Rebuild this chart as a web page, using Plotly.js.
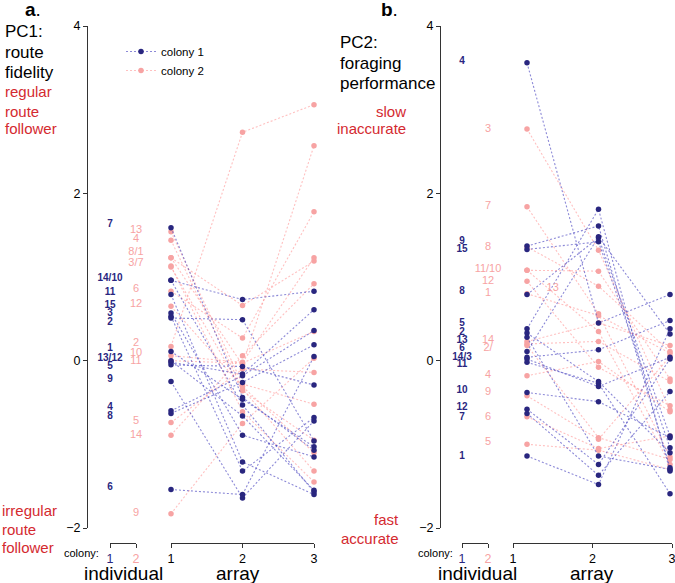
<!DOCTYPE html>
<html><head><meta charset="utf-8">
<script src="https://cdn.plot.ly/plotly-3.0.1.min.js"></script>
<style>html,body{margin:0;padding:0;background:#fff}#chart{width:675px;height:583px}</style>
</head><body><div id="chart"></div>
<script>
// ---------------- DATA ----------------
const arrays = [1, 2, 3];
const colonyTicks = ['1', '2'];
const yTicks = [-2, 0, 2, 4];

// Panel a (PC1) colony 1: values at arrays 1,2,3 per individual
const aC1Ids  = ['7','14','10','11','15','3','2','1','13','12','5','9','4','8','6'];
const aC1Arr1 = [1.59, 0.96, 0.96, 0.79, 0.57, 0.53, 0.51, 0.11, 0.00, -0.02, -0.05, -0.25, -0.60, -0.63, -1.54];
const aC1Arr2 = [-0.44, 0.73, -0.53, -1.21, -0.89, -1.32, 0.49, -0.46, -0.66, -0.16, -0.07, -1.64, -0.18, -0.26, -1.60];
const aC1Arr3 = [-1.07, 0.83, -1.57, -1.60, -1.15, -0.68, -0.96, -1.03, -1.55, 0.61, -0.29, -0.72, 0.36, 0.19, 0.05];
// Panel a colony 2
const aC2Ids  = ['2','13','4','8','1','3','7','6','12','10','11','5','14','9'];
const aC2Arr1 = [0.17, 1.54, 1.44, 1.23, 1.23, 1.13, 1.12, 0.83, 0.65, 0.06, 0.00, -0.74, -0.89, -1.83];
const aC2Arr2 = [2.73, -0.28, -0.34, 0.66, -0.05, -0.61, -0.36, 0.27, -0.31, -0.02, -0.03, -0.10, 0.06, -0.75];
const aC2Arr3 = [3.06, -0.52, -1.32, 1.19, 2.57, -1.45, -0.95, 1.78, -1.10, 1.23, 0.35, -0.14, 0.92, 0.03];
// Panel a individual labels
const aC1LabelText = ['7','14/10','11','15','3','2','1','13/12','5','9','4','8','6'];
const aC1LabelY    = [1.63, 0.98, 0.82, 0.66, 0.56, 0.46, 0.15, 0.03, -0.07, -0.22, -0.56, -0.67, -1.52];
const aC2LabelText = ['13','4','8/1','3/7','6','12','2','10','11','5','14','9'];
const aC2LabelY    = [1.56, 1.45, 1.29, 1.16, 0.85, 0.68, 0.21, 0.09, -0.01, -0.72, -0.89, -1.82];

// Panel b (PC2) colony 1
const bC1Ids  = ['4','9','15','8','5','2','13','6','14','3','11','10','12','7','1'];
const bC1Arr1 = [3.56, 1.37, 1.33, 0.79, 0.38, 0.33, 0.28, 0.11, 0.04, 0.02, -0.02, -0.38, -0.58, -0.63, -1.14];
const bC1Arr2 = [0.45, 1.61, 1.42, 1.47, 1.81, -0.25, -1.14, 1.48, 0.13, -0.31, -0.27, -0.49, -1.24, -1.37, -1.48];
const bC1Arr3 = [0.79, -1.28, -1.04, -0.90, -1.32, -1.10, -1.30, 0.32, 0.48, 0.04, -1.59, -0.92, 0.02, -0.37, 0.38];
// Panel b colony 2
const bC2Ids  = ['3','7','8','11','10','12','1','14','2','13','4','9','6','5'];
const bC2Arr1 = [2.77, 1.84, 1.36, 1.08, 1.08, 0.95, 0.80, 0.23, 0.20, 0.18, -0.18, -0.42, -0.67, -1.00];
const bC2Arr2 = [1.32, 0.56, 0.89, 1.07, 0.35, -0.08, 0.54, 0.45, 0.23, -0.92, -0.01, -0.94, -1.05, -1.07];
const bC2Arr3 = [-0.59, -1.15, 0.11, -0.22, -1.24, -0.54, 0.09, 0.18, -0.25, -1.18, -0.61, 0.05, -0.90, -1.30];
// Panel b individual labels
const bC1LabelText = ['4','9','15','8','5','2','13','6','14/3','11','10','12','7','1'];
const bC1LabelY    = [3.57, 1.43, 1.33, 0.83, 0.44, 0.34, 0.24, 0.14, 0.04, -0.05, -0.36, -0.56, -0.68, -1.15];
const bC2LabelText = ['3','7','8','11/10','12','1','14','2/','4','9','6','5'];
const bC2LabelY    = [2.77, 1.85, 1.36, 1.09, 0.95, 0.81, 0.24, 0.15, -0.17, -0.38, -0.68, -0.98];
// displaced label in panel b (placed among the arrays)
const bC2ExtraLabelText = ['13'];
const bC2ExtraLabelX    = [1.36];
const bC2ExtraLabelY    = [0.86];

// ---------------- STYLE ----------------
const W = 675, H = 583;
const fx = px => px / W;
const fy = py => 1 - py / H;
const NAVY = '#29267f', PINK = '#f7a3a3', RED = '#d42a30';
const NAVY_LINE = 'rgba(70,64,190,0.62)', PINK_LINE = 'rgba(255,150,150,0.6)';
const FONT = 'Liberation Sans, Arial, Helvetica, sans-serif';

function paths(a1, a2, a3) {
  const x = [], y = [];
  for (let i = 0; i < a1.length; i++) {
    x.push(arrays[0], arrays[1], arrays[2], null);
    y.push(a1[i], a2[i], a3[i], null);
  }
  return {x, y};
}
function lineTrace(a1, a2, a3, xa, ya, lineCol, mCol, name, showleg, rank) {
  const p = paths(a1, a2, a3);
  return {type:'scatter', mode:'lines+markers', x:p.x, y:p.y, xaxis:xa, yaxis:ya,
    name:name, showlegend:showleg, legendrank:rank, legendgroup:name, cliponaxis:false,
    connectgaps:false, hoverinfo:'skip',
    line:{color:lineCol, width:1.1, dash:'2px,2px'},
    marker:{color:mCol, size:5.5, line:{width:0}}};
}
function labelTrace(txt, yv, xv, xa, ya, col, bold) {
  return {type:'scatter', mode:'text', x:txt.map(() => xv), y:yv, text:txt.map(t => bold ? '<b>'+t+'</b>' : t),
    xaxis:xa, yaxis:ya, showlegend:false, cliponaxis:false, hoverinfo:'skip',
    textfont:{family:FONT, size:bold ? 10 : 11, color:col}};
}

const traces = [
  // panel a
  lineTrace(aC2Arr1, aC2Arr2, aC2Arr3, 'x2', 'y', PINK_LINE, PINK, 'colony 2', true, 2),
  lineTrace(aC1Arr1, aC1Arr2, aC1Arr3, 'x2', 'y', NAVY_LINE, NAVY, 'colony 1', true, 1),
  labelTrace(aC1LabelText, aC1LabelY, 1, 'x', 'y', NAVY, true),
  labelTrace(aC2LabelText, aC2LabelY, 2, 'x', 'y', PINK, false),
  // panel b
  lineTrace(bC2Arr1, bC2Arr2, bC2Arr3, 'x5', 'y2', PINK_LINE, PINK, 'colony 2', false, 2),
  lineTrace(bC1Arr1, bC1Arr2, bC1Arr3, 'x5', 'y2', NAVY_LINE, NAVY, 'colony 1', false, 1),
  labelTrace(bC1LabelText, bC1LabelY, 1, 'x3', 'y2', NAVY, true),
  labelTrace(bC2LabelText, bC2LabelY, 2, 'x3', 'y2', PINK, false),
  {type:'scatter', mode:'text', x:bC2ExtraLabelX, y:bC2ExtraLabelY, text:bC2ExtraLabelText, xaxis:'x5', yaxis:'y2',
    showlegend:false, cliponaxis:false, hoverinfo:'skip', textfont:{family:FONT, size:11, color:PINK}},
  // anchor for visible array axis in panel b
  {type:'scatter', mode:'markers', x:[arrays[0]], y:[null], xaxis:'x4', yaxis:'y2', showlegend:false, hoverinfo:'skip'}
];

const axisY = fy(543);
const colTick = ['<span style="color:'+NAVY+'">'+colonyTicks[0]+'</span>', '<span style="color:'+PINK+'">'+colonyTicks[1]+'</span>'];
function xAx(dom, rng, vals, txt) {
  return {domain:dom, range:rng, anchor:'free', position:axisY, tickvals:vals, ticktext:txt,
    ticks:'outside', ticklen:4, tickwidth:1, tickcolor:'#333', showline:true, linecolor:'#333', linewidth:1,
    ticklabeloverflow:'allow', showgrid:false, zeroline:false, fixedrange:true,
    tickfont:{family:FONT, size:12.5, color:'#000'}};
}
function yAx(pos) {
  return {domain:[fy(528), fy(26)], range:[-2, 4], anchor:'free', position:pos, tickvals:yTicks,
    ticks:'outside', ticklen:4, tickwidth:1, tickcolor:'#333', showline:true, linecolor:'#333', linewidth:1,
    showgrid:false, zeroline:false, fixedrange:true, tickfont:{family:FONT, size:12.5, color:'#000'}};
}

function ann(text, x, y, size, color, xanchor) {
  return {text:text, x:fx(x), y:fy(y), xref:'paper', yref:'paper', xanchor:xanchor, yanchor:'middle',
    showarrow:false, font:{family:FONT, size:size, color:color}};
}
const annotations = [
  ann('<b>a</b>.', 33, 10, 19, '#000', 'center'),
  ann('PC1:', 3, 32, 17, '#000', 'left'),
  ann('route', 3, 52, 17, '#000', 'left'),
  ann('fidelity', 3, 72, 17, '#000', 'left'),
  ann('regular', 3, 92, 15, RED, 'left'),
  ann('route', 3, 111, 15, RED, 'left'),
  ann('follower', 3, 129, 15, RED, 'left'),
  ann('irregular', 0, 510, 15, RED, 'left'),
  ann('route', 0, 529, 15, RED, 'left'),
  ann('follower', 0, 547, 15, RED, 'left'),
  ann('colony:', 101, 553, 11, '#000', 'right'),
  ann('individual', 123, 573, 19, '#000', 'center'),
  ann('array', 238, 573, 19, '#000', 'center'),

  ann('<b>b</b>.', 390, 10, 19, '#000', 'center'),
  ann('PC2:', 338, 43, 17, '#000', 'left'),
  ann('foraging', 338, 63, 17, '#000', 'left'),
  ann('performance', 338, 83, 17, '#000', 'left'),
  ann('slow', 408, 111, 15, RED, 'right'),
  ann('inaccurate', 408, 129, 15, RED, 'right'),
  ann('fast', 401, 519, 15, RED, 'right'),
  ann('accurate', 401, 538, 15, RED, 'right'),
  ann('colony:', 455, 553, 11, '#000', 'right'),
  ann('individual', 477, 573, 19, '#000', 'center'),
  ann('array', 592, 573, 19, '#000', 'center')
];

const layout = {
  width:W, height:H, margin:{l:0, r:0, t:0, b:0},
  paper_bgcolor:'#fff', plot_bgcolor:'rgba(0,0,0,0)',
  font:{family:FONT, size:12, color:'#000'},
  showlegend:true,
  legend:{x:fx(121), y:fy(37), xanchor:'left', yanchor:'top', bgcolor:'rgba(0,0,0,0)',
    font:{family:FONT, size:11.5, color:'#000'}, tracegroupgap:0, itemclick:false},
  xaxis:  xAx([fx(110), fx(136)], [1, 2], [1, 2], colTick),
  xaxis2: xAx([fx(171), fx(314)], [1, 3], arrays, arrays.map(String)),
  xaxis3: xAx([fx(462), fx(488)], [1, 2], [1, 2], colTick),
  xaxis4: xAx([fx(513), fx(672)], [1, 3], arrays, arrays.map(String)),
  xaxis5: {domain:[fx(527), fx(670)], range:[1, 3], anchor:'free', position:axisY, visible:false, fixedrange:true},
  yaxis:  yAx(fx(87)),
  yaxis2: yAx(fx(440)),
  annotations:annotations
};

Plotly.newPlot('chart', traces, layout, {staticPlot:true, displayModeBar:false});
</script></body></html>
